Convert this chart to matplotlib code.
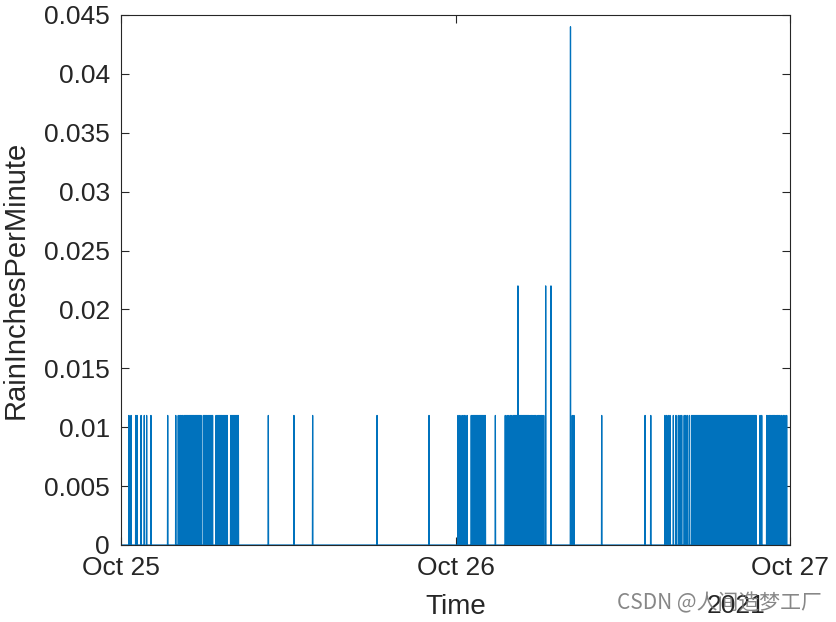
import numpy as np
import pandas as pd
import matplotlib
matplotlib.use('Agg')
import matplotlib.pyplot as plt
import matplotlib.dates as mdates

# rain gauge tips, hours after 2021-10-25 00:00
tips_011 = [
    0.57, 0.72, 1.06, 1.15, 1.44, 1.67, 1.84, 2.15, 3.35, 3.93, 4.11,
    4.23, 4.30, 4.40, 4.52, 4.59, 4.66, 4.73, 4.80, 4.88, 4.95, 5.02,
    5.09, 5.16, 5.23, 5.31, 5.38, 5.45, 5.52, 5.59, 5.66, 5.74,
    5.91, 5.99, 6.07, 6.15, 6.24, 6.32, 6.40, 6.48, 6.57,
    6.82, 6.90, 6.98, 7.06, 7.14, 7.22, 7.31, 7.39, 7.47, 7.55, 7.62,
    7.87, 7.95, 8.03, 8.11, 8.19, 8.27, 8.35, 8.42,
    10.57, 12.41, 13.75, 18.37, 22.10,
    24.18, 24.32, 24.47, 24.61, 24.68, 24.83,
    25.13, 25.20, 25.28, 25.35, 25.42, 25.49, 25.56, 25.63, 25.71, 25.78,
    25.85, 25.92, 25.99, 26.07, 26.14,
    26.86,
    27.57, 27.70, 27.83, 27.95, 28.05,
    28.18, 28.25, 28.32, 28.40, 28.54, 28.61, 28.68, 28.75, 28.83,
    28.90, 28.97, 29.04, 29.11, 29.18, 29.25,
    29.35, 29.45, 29.55, 29.65, 29.73,
    29.85, 29.95, 30.05, 30.14, 30.21, 30.33,
    32.38, 32.50,
    34.49, 37.60, 38.01,
    39.03, 39.15, 39.27, 39.39, 39.63, 39.82, 39.99, 40.11, 40.23,
    40.41, 40.53, 40.65, 40.79,
    40.95, 41.02, 41.09, 41.16, 41.23, 41.30, 41.37, 41.44, 41.51, 41.58,
    41.65, 41.72, 41.79, 41.86, 41.93, 42.00, 42.07, 42.14, 42.21, 42.28,
    42.35, 42.42, 42.49, 42.56, 42.63, 42.70, 42.77, 42.84, 42.91, 42.98,
    43.05, 43.12, 43.19, 43.26, 43.33, 43.40, 43.47, 43.54, 43.61, 43.68,
    43.75, 43.82, 43.89, 43.96, 44.03, 44.10, 44.17, 44.24, 44.31, 44.38,
    44.45, 44.52, 44.59, 44.66, 44.73, 44.80, 44.87, 44.94, 45.01, 45.08,
    45.15, 45.22, 45.29, 45.36, 45.43, 45.50, 45.56,
    45.85, 45.97,
    46.33, 46.42, 46.52, 46.62, 46.72, 46.80, 46.90, 47.00, 47.10, 47.20,
    47.28, 47.40, 47.52, 47.64, 47.76,
]
tips_022 = [28.48, 30.47, 30.85]
tips_044 = [32.25]

yticks = [0, 0.005, 0.01, 0.015, 0.02, 0.025, 0.03, 0.035, 0.04, 0.045]
ytick_labels = ['0', '0.005', '0.01', '0.015', '0.02', '0.025', '0.03',
                '0.035', '0.04', '0.045']
day_ticks = ['2021-10-25', '2021-10-26', '2021-10-27']
day_labels = ['Oct 25', 'Oct 26', 'Oct 27']

start = pd.Timestamp('2021-10-25')

# one sample per minute: each tip is a single non-zero reading between zeros
times = np.array(tips_011 + tips_022 + tips_044)
vals = np.array([0.011] * len(tips_011) + [0.022] * len(tips_022) + [0.044] * len(tips_044))
order = np.argsort(times, kind='stable')
times, vals = times[order], vals[order]
w = 1 / 60
xs, ys = [0.0], [0.0]
for t, v in zip(times, vals):
    xs += [t - w, t, t + w]
    ys += [0.0, v, 0.0]
xs.append(48.0)
ys.append(0.0)
x_dates = start + pd.to_timedelta(np.array(xs), unit='h')

plt.rcParams['font.family'] = ['Liberation Sans', 'DejaVu Sans']
dark = '#262626'

fig = plt.figure(figsize=(8.36, 6.22), dpi=100)
ax = fig.add_axes([121 / 836, 1 - 545 / 622, 669 / 836, 530 / 622])

ax.plot(x_dates, ys, color='#0072BD', linewidth=0.9)

ax.set_xlim(pd.Timestamp(day_ticks[0]), pd.Timestamp(day_ticks[-1]))
ax.set_ylim(0, 0.045)
ax.set_xticks([mdates.date2num(pd.Timestamp(d)) for d in day_ticks])
ax.set_xticklabels(day_labels)
ax.set_yticks(yticks)
ax.set_yticklabels(ytick_labels)

ax.tick_params(direction='in', length=6, width=0.8, colors=dark,
               labelsize=19, top=True, right=True)
ax.tick_params(axis='x', pad=8)
ax.tick_params(axis='y', pad=8)
for s in ax.spines.values():
    s.set_color(dark)
    s.set_linewidth(0.8)

ax.set_xlabel('Time', fontsize=20, color=dark)
ax.set_ylabel('RainInchesPerMinute', fontsize=21, color=dark)
ax.xaxis.set_label_coords(0.5, -0.093)
ax.yaxis.set_label_coords(-0.137, 0.5)

fig.text(765 / 836, 1 - 606 / 622, '2021', fontsize=19, color=dark,
         ha='right', va='center')
fig.text(822 / 836, 1 - 603 / 622, 'CSDN @人间造梦工厂', fontsize=15,
         color='#7a7a7a', ha='right', va='center', alpha=0.9,
         family=['Noto Sans CJK SC', 'DejaVu Sans'])

fig.savefig('out.png', dpi=100)
